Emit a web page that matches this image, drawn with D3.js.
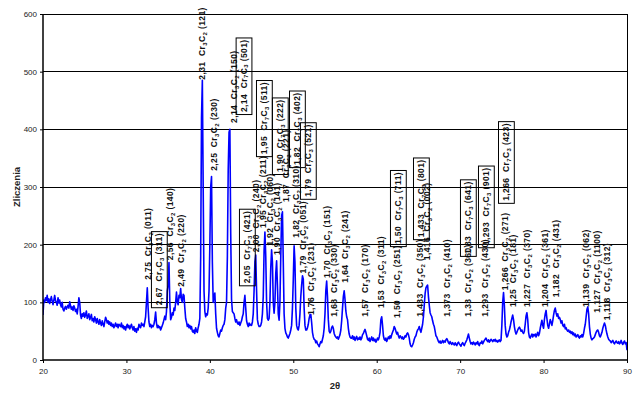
<!DOCTYPE html>
<html>
<head>
<meta charset="utf-8">
<script src="https://cdn.jsdelivr.net/npm/d3@7"></script>
<style>
  body { margin: 0; background: #fff; }
  svg { display: block; font-family: "Liberation Sans", Arial, sans-serif; }
</style>
</head>
<body>
<svg id="chart" width="633" height="394"></svg>
<script>
// Diffractogram: counts sampled every 0.1° of 2θ starting at 20°
const angleStart = 20;
const angleStep = 0.1;
const counts = [
  78,104,100,108,103,112,100,106,98,104,     // 20
  110,102,96,104,112,103,100,95,108,99,      // 21
  104,96,92,100,88,85,90,93,88,92,           // 22
  95,90,101,94,88,92,86,94,90,84,            // 23
  88,80,92,108,100,78,72,80,76,82,           // 24
  74,78,85,72,76,80,70,74,79,68,             // 25
  72,66,75,70,64,72,66,62,70,64,             // 26
  60,68,62,58,66,74,70,64,68,62,             // 27
  66,60,64,58,62,56,60,64,58,62,             // 28
  56,62,60,58,64,56,60,54,58,52,             // 29
  58,62,56,60,54,58,62,56,52,58,             // 30
  50,54,48,55,52,62,58,56,64,60,             // 31
  62,58,66,75,100,125,90,66,58,62,           // 32
  56,60,58,62,70,83,64,56,60,56,             // 33
  58,52,56,60,64,70,76,70,84,120,            // 34
  130,169,100,70,74,82,78,90,86,100,         // 35
  118,100,96,112,108,124,105,100,114,112,    // 36
  90,72,66,58,62,56,60,54,58,50,             // 37
  48,52,46,56,50,48,56,62,72,180,            // 38
  420,485,300,120,84,75,80,78,90,120,        // 39
  200,300,318,170,100,112,116,80,55,48,      // 40
  42,40,46,52,50,56,60,62,70,90,             // 41
  100,180,330,395,400,220,105,84,82,80,      // 42
  72,66,70,64,62,66,60,64,68,75,             // 43
  80,100,112,90,68,62,58,64,60,62,           // 44
  60,66,80,120,170,182,120,70,62,58,         // 45
  58,60,66,80,110,190,222,180,100,72,        // 46
  69,72,100,160,191,170,100,81,100,150,      // 47
  172,130,80,69,100,180,250,257,170,80,      // 48
  55,47,44,40,38,42,46,52,60,90,             // 49
  140,198,170,90,60,54,52,60,80,110,         // 50
  130,146,140,90,60,52,52,56,62,72,          // 51
  78,79,65,48,40,36,35,30,33,28,             // 52
  26,23,28,32,30,36,42,55,80,120,            // 53
  137,110,70,50,47,50,56,59,55,46,           // 54
  42,40,38,40,36,40,44,52,68,90,             // 55
  110,120,105,85,75,70,55,45,40,38,          // 56
  38,42,36,40,34,38,41,35,38,36,             // 57
  40,35,38,44,46,50,53,48,42,36,             // 58
  34,38,32,36,40,34,38,33,36,31,             // 59
  34,38,35,40,48,70,75,60,42,36,             // 60
  34,38,32,36,40,37,42,38,44,48,             // 61
  52,58,55,50,45,48,42,38,42,40,             // 62
  37,40,36,38,42,40,45,47,44,38,             // 63
  28,24,23,26,30,36,40,42,48,52,             // 64
  54,58,52,48,55,62,75,95,115,125,           // 65
  128,130,110,95,82,78,75,68,62,58,          // 66
  50,42,40,36,32,30,33,29,31,34,             // 67
  30,33,31,35,37,34,30,28,32,29,             // 68
  27,30,28,26,30,27,25,29,31,28,             // 69
  26,24,28,30,27,25,29,32,35,40,             // 70
  45,38,32,28,30,27,31,29,26,30,             // 71
  28,32,27,25,30,29,33,28,31,34,             // 72
  36,38,34,32,35,31,33,36,34,32,             // 73
  35,33,36,32,34,31,33,35,32,34,             // 74
  60,100,117,95,60,45,40,42,48,52,           // 75
  58,66,72,78,70,58,50,45,48,52,             // 76
  55,57,54,50,52,48,46,50,62,76,             // 77
  82,70,48,40,38,42,45,40,44,42,             // 78
  45,40,44,48,42,46,55,62,69,60,             // 79
  55,70,80,86,72,60,55,62,70,66,             // 80
  60,68,78,86,90,82,76,80,72,74,             // 81
  70,64,68,60,58,62,54,56,52,50,             // 82
  52,48,50,46,49,44,47,42,45,40,             // 83
  42,44,40,38,42,40,44,40,46,55,             // 84
  62,75,88,92,80,58,45,38,35,37,             // 85
  38,40,44,48,51,52,48,42,40,44,             // 86
  48,55,60,64,60,52,45,40,36,34,             // 87
  33,30,32,34,30,28,31,33,30,29,             // 88
  32,28,30,34,29,27,31,33,28,30,             // 89
  17                                         // 90
];

const xTicks = [20, 30, 40, 50, 60, 70, 80, 90];
const yTicks = [0, 100, 200, 300, 400, 500, 600];

// Reflex labels: d-spacing, phase, hkl, 2θ of the label, count level where it starts, boxed
const reflexes = [
  ["2,75", "Cr3C2", "011", 32.59, 139, false],
  ["2,67", "Cr7C3", "311", 33.90, 95, true],
  ["2,56", "Cr3C2", "140", 35.22, 173, false],
  ["2,49", "Cr3C2", "220", 36.54, 127, false],
  ["2,31", "Cr3C2", "121", 39.06, 486, false],
  ["2,25", "Cr3C2", "230", 40.50, 328, false],
  ["2,14", "Cr3C2", "150", 42.95, 411, false],
  ["2,14", "Cr7C3", "501", 44.05, 430, true],
  ["2,05", "Cr7C3", "421", 44.45, 133, true],
  ["2,00", "Cr3C2", "240", 45.53, 187, false],
  ["1,95", "Cr3C2", "211", 46.37, 229, false],
  ["1,95", "Cr7C3", "511", 46.49, 357, true],
  ["1,92", "Cr3C2", "060", 47.21, 198, false],
  ["1,90", "Cr3C2", "141", 48.05, 182, false],
  ["1,90", "Cr7C3", "222", 48.40, 326, true],
  ["1,87", "Cr3C2", "221", 49.13, 274, false],
  ["1,82", "Cr7C3", "402", 50.45, 338, true],
  ["1,79", "Cr7C3", "521", 51.76, 283, true],
  ["1,82", "Cr3C2", "310", 50.33, 212, false],
  ["1,79", "Cr3C2", "051", 51.16, 150, false],
  ["1,76", "Cr3C2", "231", 52.15, 78, false],
  ["1,70", "Cr3C2", "151", 54.04, 142, false],
  ["1,68", "Cr3C2", "330", 54.88, 75, false],
  ["1,64", "Cr3C2", "241", 56.20, 134, false],
  ["1,57", "Cr3C2", "170", 58.60, 75, false],
  ["1,53", "Cr3C2", "311", 60.51, 90, false],
  ["1,50", "Cr3C2", "251", 62.43, 73, false],
  ["1,50", "Cr7C3", "711", 62.55, 201, true],
  ["1,433", "Cr3C2", "350", 65.19, 75, false],
  ["1,416", "Cr3C2", "002", 66.03, 173, false],
  ["1,433", "Cr7C3", "801", 65.31, 213, true],
  ["1,373", "Cr3C2", "410", 68.42, 75, false],
  ["1,33", "Cr3C2", "360", 70.94, 75, false],
  ["1,33", "Cr7C3", "641", 70.94, 184, true],
  ["1,293", "Cr3C2", "430", 72.98, 75, false],
  ["1,293", "Cr7C3", "901", 73.10, 199, true],
  ["1,266", "Cr3C2", "271", 75.38, 121, false],
  ["1,25", "Cr3C2", "181", 76.33, 92, false],
  ["1,266", "Cr7C3", "423", 75.50, 276, true],
  ["1,227", "Cr3C2", "370", 78.00, 92, false],
  ["1,204", "Cr3C2", "361", 80.17, 92, false],
  ["1,182", "Cr3C2", "431", 81.49, 109, false],
  ["1,139", "Cr3C2", "062", 85.08, 92, false],
  ["1,127", "Cr3C2", "1100", 86.40, 82, false],
  ["1,118", "Cr3C2", "312", 87.60, 69, false]
];

const width = 633, height = 394;
const margin = { left: 43, right: 6, top: 14, bottom: 34 };

const svg = d3.select("#chart");

const x = d3.scaleLinear().domain([20, 90]).range([margin.left, width - margin.right]);
const y = d3.scaleLinear().domain([0, 600]).range([height - margin.bottom, margin.top]);

// horizontal gridlines
svg.append("g")
  .selectAll("line")
  .data(yTicks.filter(v => v > 0))
  .join("line")
  .attr("x1", x(20)).attr("x2", x(90))
  .attr("y1", d => y(d)).attr("y2", d => y(d))
  .attr("stroke", "#000").attr("stroke-width", 1)
  .attr("shape-rendering", "crispEdges");

// right border of the plot area
svg.append("line")
  .attr("x1", x(90)).attr("x2", x(90))
  .attr("y1", y(600)).attr("y2", y(0))
  .attr("stroke", "#000").attr("stroke-width", 1)
  .attr("shape-rendering", "crispEdges");

// diffraction pattern
const points = counts.map((c, i) => [angleStart + i * angleStep, c]);
svg.append("defs").append("clipPath").attr("id", "plotClip")
  .append("rect")
  .attr("x", x(20)).attr("y", y(600))
  .attr("width", x(90) - x(20)).attr("height", y(0) - y(600));

svg.append("path")
  .datum(points)
  .attr("clip-path", "url(#plotClip)")
  .attr("fill", "none")
  .attr("stroke", "#0000ff")
  .attr("stroke-width", 1.6)
  .attr("stroke-linejoin", "round")
  .attr("d", d3.line().x(d => x(d[0])).y(d => y(d[1])));

// axes
const yAxis = svg.append("g")
  .attr("transform", `translate(${x(20)},0)`)
  .call(d3.axisLeft(y).tickValues(yTicks).tickSize(3).tickPadding(3).tickFormat(d3.format("d")));
const xAxis = svg.append("g")
  .attr("transform", `translate(0,${y(0)})`)
  .call(d3.axisBottom(x).tickValues(xTicks).tickSize(3).tickPadding(5).tickFormat(d3.format("d")));

[yAxis, xAxis].forEach(ax => {
  ax.select(".domain").attr("stroke", "#000").attr("stroke-width", 1.5);
  ax.selectAll(".tick line").attr("stroke", "#000");
  ax.selectAll(".tick text")
    .attr("font-family", "Liberation Sans, Arial, sans-serif")
    .attr("font-size", 8)
    .attr("fill", "#222");
});
yAxis.select(".domain").attr("d", `M0,${y(0)}V${y(600)}`);
xAxis.select(".domain").attr("d", `M${x(20)},0H${x(90)}`);

// axis titles
svg.append("text")
  .attr("transform", `translate(17,${(y(0) + y(600)) / 2}) rotate(-90)`)
  .attr("text-anchor", "middle")
  .attr("dy", "0.35em")
  .attr("font-size", 9.5)
  .attr("font-weight", "bold")
  .attr("fill", "#222")
  .text("Zliczenia");

svg.append("text")
  .attr("x", (x(20) + x(90)) / 2)
  .attr("y", 389)
  .attr("text-anchor", "middle")
  .attr("font-size", 9.5)
  .attr("font-weight", "bold")
  .attr("fill", "#222")
  .text("2θ");

// reflex annotations, written upward from their start level
const labels = svg.append("g");

reflexes.forEach(([d, phase, hkl, angle, level, boxed]) => {
  const [, a, n] = phase.match(/^Cr(\d)C(\d)$/);
  const grp = labels.append("g")
    .attr("transform", `translate(${x(angle)},${y(level)}) rotate(-90)`);
  const t = grp.append("text")
    .attr("dy", "0.35em")
    .attr("font-size", 8.5)
    .attr("font-weight", "bold")
    .attr("letter-spacing", 0.4)
    .attr("fill", "#111");
  t.append("tspan").text(`${d}\u00a0\u00a0Cr`);
  t.append("tspan").attr("font-size", 6).attr("dy", 1.8).text(a);
  t.append("tspan").attr("dy", -1.8).text("C");
  t.append("tspan").attr("font-size", 6).attr("dy", 1.8).text(n);
  t.append("tspan").attr("dy", -1.8).text(`\u00a0(${hkl})`);
  if (boxed) {
    const bb = t.node().getBBox();
    grp.insert("rect", "text")
      .attr("x", bb.x - 2.5).attr("y", bb.y - 2.5)
      .attr("width", bb.width + 4).attr("height", bb.height + 5)
      .attr("fill", "none")
      .attr("stroke", "#000")
      .attr("stroke-width", 1);
  }
});
</script>
</body>
</html>
